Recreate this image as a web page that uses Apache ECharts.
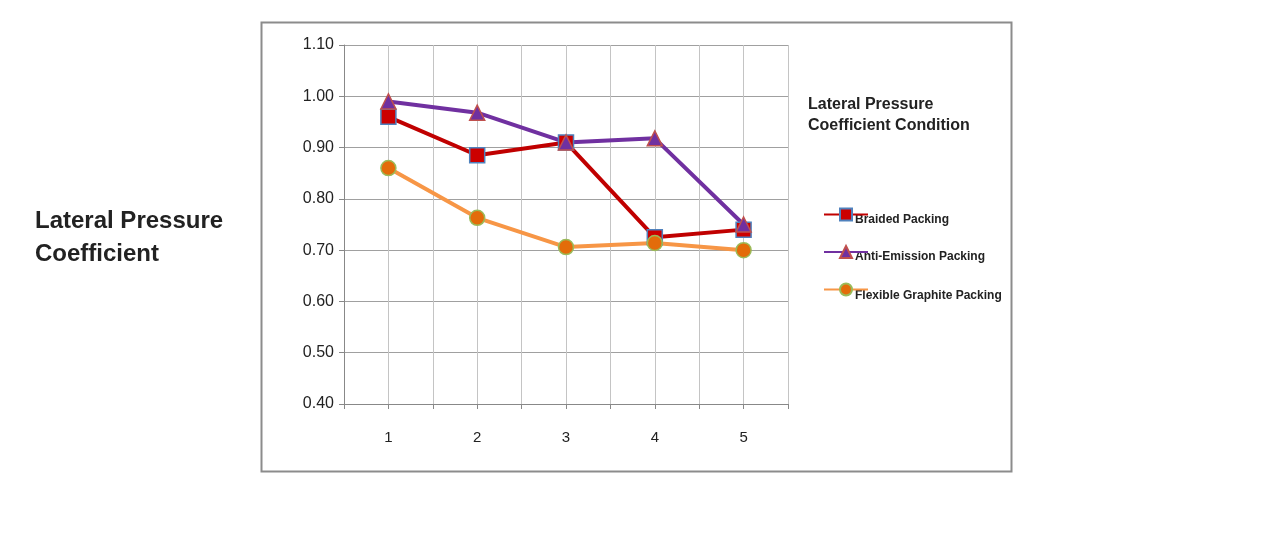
<!DOCTYPE html>
<html><head><meta charset="utf-8">
<script src="https://cdn.jsdelivr.net/npm/echarts@6/dist/echarts.min.js"></script>
<style>html,body{margin:0;background:#fff}#chart{width:1275px;height:540px}</style>
</head><body><div id="chart"></div>
<script>
const categories = [1, 2, 3, 4, 5];
const seriesNames = ['Braided Packing', 'Anti-Emission Packing', 'Flexible Graphite Packing'];
const braided = [0.96, 0.885, 0.91, 0.725, 0.74];
const antiEmission = [0.99, 0.968, 0.91, 0.918, 0.75];
const flexible = [0.86, 0.763, 0.706, 0.714, 0.70];

let chart = echarts.init(document.getElementById('chart'), null, { renderer: 'canvas' });

const pair = (vals) => vals.map((v, i) => [categories[i], v]);
const font = 'Liberation Sans, Arial, sans-serif';
const legendTextY = [214, 251, 290];

chart.setOption({
	animation: false,
	textStyle: { fontFamily: font },
	grid: { left: 344, top: 45, width: 444, height: 359 },
	graphic: [
		{ type: 'rect', shape: { x: 261.5, y: 22.5, width: 750, height: 449 }, style: { fill: 'none', stroke: '#8c8c8c', lineWidth: 2 } },
		{ type: 'text', left: 35, top: 205, style: { text: 'Lateral Pressure\nCoefficient', font: 'bold 24px ' + font, fill: '#222', lineHeight: 33 } },
		{ type: 'text', left: 808, top: 94, style: { text: 'Lateral Pressure\nCoefficient Condition', font: 'bold 16px ' + font, fill: '#222', lineHeight: 21 } },
	].concat(seriesNames.map((n, i) => ({
		type: 'text', left: 855, top: legendTextY[i],
		style: { text: n, font: 'bold 12px ' + font, fill: '#222' },
	}))),
	legend: {
		orient: 'vertical',
		left: 818,
		top: 202,
		itemGap: 23,
		itemWidth: 44,
		itemHeight: 15,
		formatter: () => '',
		textStyle: { fontSize: 1 },
		data: seriesNames,
	},
	xAxis: {
		type: 'value',
		min: 0.5, max: 5.5, interval: 0.5,
		axisLine: { lineStyle: { color: '#888' } },
		axisTick: { show: true, lineStyle: { color: '#888' } },
		splitLine: { show: true, lineStyle: { color: '#c4c4c4' } },
		axisLabel: {
			color: '#222', fontSize: 15, margin: 26,
			formatter: (v) => (Number.isInteger(v) ? String(v) : ''),
		},
	},
	yAxis: {
		type: 'value',
		min: 0.4, max: 1.1, interval: 0.1,
		axisLine: { show: true, lineStyle: { color: '#888' } },
		axisTick: { show: true, lineStyle: { color: '#888' } },
		splitLine: { lineStyle: { color: '#a0a0a0' } },
		axisLabel: { color: '#222', fontSize: 16, margin: 10, formatter: (v) => v.toFixed(2) },
	},
	series: [
		{
			name: seriesNames[0], type: 'line', data: pair(braided),
			symbol: 'rect', symbolSize: 15,
			lineStyle: { color: '#c00000', width: 4 },
			itemStyle: { color: '#cc0000', borderColor: '#4f81bd', borderWidth: 1.5 },
		},
		{
			name: seriesNames[1], type: 'line', data: pair(antiEmission),
			symbol: 'triangle', symbolSize: 15,
			lineStyle: { color: '#7030a0', width: 4 },
			itemStyle: { color: '#7030a0', borderColor: '#c0504d', borderWidth: 1.5 },
		},
		{
			name: seriesNames[2], type: 'line', data: pair(flexible),
			symbol: 'circle', symbolSize: 15,
			lineStyle: { color: '#f79646', width: 4 },
			itemStyle: { color: '#e36c0a', borderColor: '#9bbb59', borderWidth: 1.5 },
		},
	],
});
window.addEventListener('resize', chart.resize);
</script></body></html>
